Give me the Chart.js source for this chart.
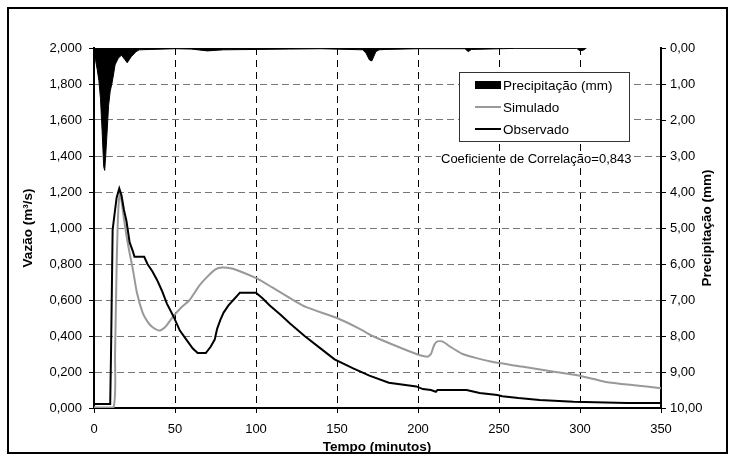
<!DOCTYPE html>
<html>
<head>
<meta charset="utf-8">
<script src="https://cdn.jsdelivr.net/npm/chart.js@4"></script>
<style>
    body { margin: 0; background: #fff; }
</style>
</head>
<body>
<canvas id="hydroChart" width="735" height="461"></canvas>
<script>
// Observed discharge (m3/s) against time (minutes)
const obsTime = [0, 10, 10.5, 11.5, 13, 14, 15.6, 17, 18.5, 20, 22, 24, 25, 31, 33, 36, 39, 42, 45, 49, 53, 57, 61, 64, 69, 72, 74.5, 76, 78, 80, 83, 86, 89, 90, 100, 104, 108.5, 115, 121, 130, 140, 148.5, 160, 170, 182, 199, 203, 208, 211, 212, 230, 238, 249, 252, 262, 275, 296, 329, 350];
const obsFlow = [0.022, 0.022, 0.3, 0.99, 1.1, 1.17, 1.22, 1.18, 1.1, 1.04, 0.92, 0.87, 0.84, 0.84, 0.80, 0.76, 0.71, 0.65, 0.58, 0.51, 0.43, 0.38, 0.33, 0.305, 0.305, 0.34, 0.38, 0.44, 0.49, 0.53, 0.57, 0.60, 0.63, 0.64, 0.64, 0.61, 0.57, 0.52, 0.47, 0.40, 0.33, 0.27, 0.22, 0.18, 0.14, 0.12, 0.105, 0.10, 0.09, 0.10, 0.10, 0.083, 0.072, 0.065, 0.055, 0.045, 0.035, 0.028, 0.028];

// Simulated discharge (m3/s)
const simTime = [0, 12, 13, 14, 15, 16, 17, 18.5, 20, 22, 24, 26.5, 30, 33, 36, 40.5, 44, 49, 54, 59, 65, 70, 75, 79, 85, 90, 100.5, 110, 121, 131, 150, 164, 172, 185, 199, 206, 208, 210, 212, 215, 220, 227.5, 235, 244, 264, 285, 299, 316, 335, 350];
const simFlow = [0.004, 0.004, 0.3, 0.8, 1.1, 1.19, 1.15, 1.05, 0.96, 0.86, 0.77, 0.64, 0.53, 0.48, 0.45, 0.43, 0.45, 0.51, 0.56, 0.60, 0.68, 0.73, 0.77, 0.78, 0.775, 0.76, 0.72, 0.67, 0.61, 0.56, 0.50, 0.44, 0.40, 0.35, 0.30, 0.285, 0.30, 0.35, 0.37, 0.37, 0.34, 0.30, 0.28, 0.26, 0.23, 0.20, 0.18, 0.145, 0.125, 0.11];

// Rainfall (mm), plotted on the reversed right axis
const rainTime = [0, 1, 2, 3, 4, 5, 6, 6.6, 7.2, 8, 9, 10, 11, 12, 13, 15, 17, 19, 20.5, 23, 26, 28, 35, 50, 60, 70, 80, 100, 120, 140, 166, 168, 170, 171.5, 174, 176, 180, 200, 229, 231, 233, 260, 298, 300, 302, 304];
const rainMm = [0.15, 0.35, 0.6, 0.9, 1.4, 2.3, 3.3, 3.4, 3.0, 2.4, 1.6, 1.2, 1.0, 0.75, 0.47, 0.28, 0.2, 0.32, 0.41, 0.24, 0.1, 0.05, 0.04, 0.02, 0.03, 0.08, 0.05, 0.04, 0.03, 0.02, 0.05, 0.15, 0.33, 0.36, 0.1, 0.05, 0.04, 0.02, 0.02, 0.1, 0.04, 0.01, 0.01, 0.08, 0.06, 0];

const correlation = "Coeficiente de Correlação=0,843";

const FONT = "'Liberation Sans', Arial, sans-serif";

function toPoints(xs, ys) {
    return xs.map((x, i) => ({ x: x, y: ys[i] }));
}

// Fixed plot area like the original spreadsheet chart
const AREA = { left: 94, right: 661, top: 48, bottom: 408 };

const framePlugin = {
    id: "frame",
    afterDraw(chart) {
        const ctx = chart.ctx;
        ctx.save();

        // outer border
        ctx.strokeStyle = "#000";
        ctx.lineWidth = 2;
        ctx.strokeRect(8, 8, 719, 445);

        // axis titles
        ctx.fillStyle = "#000";
        ctx.font = "bold 13.5px " + FONT;
        ctx.textAlign = "center";
        ctx.textBaseline = "middle";
        ctx.fillText("Tempo (minutos)", 377, 447);

        ctx.save();
        ctx.translate(28, 228);
        ctx.rotate(-Math.PI / 2);
        ctx.fillText("Vazão (m³/s)", 0, 0);
        ctx.restore();

        ctx.save();
        ctx.translate(707, 228);
        ctx.rotate(-Math.PI / 2);
        ctx.fillText("Precipitação (mm)", 0, 0);
        ctx.restore();

        // correlation note, white behind text hides the gridline
        ctx.font = "13px " + FONT;
        ctx.textAlign = "left";
        const w = ctx.measureText(correlation).width;
        ctx.fillStyle = "#fff";
        ctx.fillRect(441, 151, w, 15);
        ctx.fillStyle = "#000";
        ctx.fillText(correlation, 441, 159);

        // legend
        ctx.fillStyle = "#fff";
        ctx.fillRect(459, 72, 170, 69);
        ctx.strokeStyle = "#333";
        ctx.lineWidth = 1;
        ctx.strokeRect(459.5, 72.5, 170, 69);

        ctx.fillStyle = "#000";
        ctx.fillRect(475, 81, 26, 8);

        ctx.lineWidth = 2;
        ctx.strokeStyle = "#999";
        ctx.beginPath();
        ctx.moveTo(475, 107);
        ctx.lineTo(501, 107);
        ctx.stroke();

        ctx.strokeStyle = "#000";
        ctx.beginPath();
        ctx.moveTo(475, 129);
        ctx.lineTo(501, 129);
        ctx.stroke();

        ctx.font = "13.5px " + FONT;
        ctx.fillStyle = "#000";
        ctx.fillText("Precipitação (mm)", 503, 86);
        ctx.fillText("Simulado", 503, 108);
        ctx.fillText("Observado", 503, 130);

        ctx.restore();
    }
};

Chart.defaults.font.family = FONT;
Chart.defaults.font.size = 13;
Chart.defaults.color = "#000";

const chart = new Chart(document.getElementById("hydroChart"), {
    type: "line",
    data: {
        datasets: [
            {
                label: "Observado",
                data: toPoints(obsTime, obsFlow),
                yAxisID: "y",
                borderColor: "#000",
                borderWidth: 2,
                pointRadius: 0,
                tension: 0,
                fill: false
            },
            {
                label: "Simulado",
                data: toPoints(simTime, simFlow),
                yAxisID: "y",
                borderColor: "#999",
                borderWidth: 2,
                pointRadius: 0,
                tension: 0.2,
                fill: false
            },
            {
                label: "Precipitação (mm)",
                data: toPoints(rainTime, rainMm),
                yAxisID: "y2",
                borderColor: "#000",
                backgroundColor: "#000",
                borderWidth: 1,
                pointRadius: 0,
                tension: 0,
                fill: "origin"
            }
        ]
    },
    options: {
        responsive: false,
        animation: false,
        devicePixelRatio: 1,
        layout: { padding: { top: AREA.top } },
        plugins: {
            legend: { display: false },
            tooltip: { enabled: false }
        },
        scales: {
            x: {
                type: "linear",
                min: 0,
                max: 350,
                afterFit: s => { s.height = 461 - AREA.bottom; },
                ticks: {
                    stepSize: 50,
                    padding: 9,
                    maxRotation: 0,
                    callback: v => String(v)
                },
                grid: {
                    color: c => (c.tick && (c.tick.value === 0 || c.tick.value === 350)) ? "rgba(0,0,0,0)" : "#000",
                    tickColor: "#000",
                    tickLength: 5,
                    lineWidth: 1
                },
                border: { color: "#000", width: 2, dash: [7, 5] }
            },
            y: {
                position: "left",
                min: 0,
                max: 2,
                afterFit: s => { s.width = AREA.left; },
                ticks: {
                    stepSize: 0.2,
                    padding: 7,
                    callback: v => v.toFixed(3).replace(".", ",")
                },
                grid: {
                    color: c => (c.tick && (c.tick.value <= 0.001 || c.tick.value >= 1.999)) ? "rgba(0,0,0,0)" : "#777",
                    tickColor: "#000",
                    tickLength: 5,
                    lineWidth: 1
                },
                border: { color: "#000", width: 2, dash: [7, 4] }
            },
            y2: {
                position: "right",
                reverse: true,
                min: 0,
                max: 10,
                afterFit: s => { s.width = 735 - AREA.right; },
                ticks: {
                    stepSize: 1,
                    padding: 4,
                    callback: v => v.toFixed(2).replace(".", ",")
                },
                grid: {
                    drawOnChartArea: false,
                    color: "#000",
                    tickColor: "#000",
                    tickLength: 5
                },
                border: { color: "#000", width: 2 }
            }
        }
    },
    plugins: [framePlugin]
});
</script>
</body>
</html>
